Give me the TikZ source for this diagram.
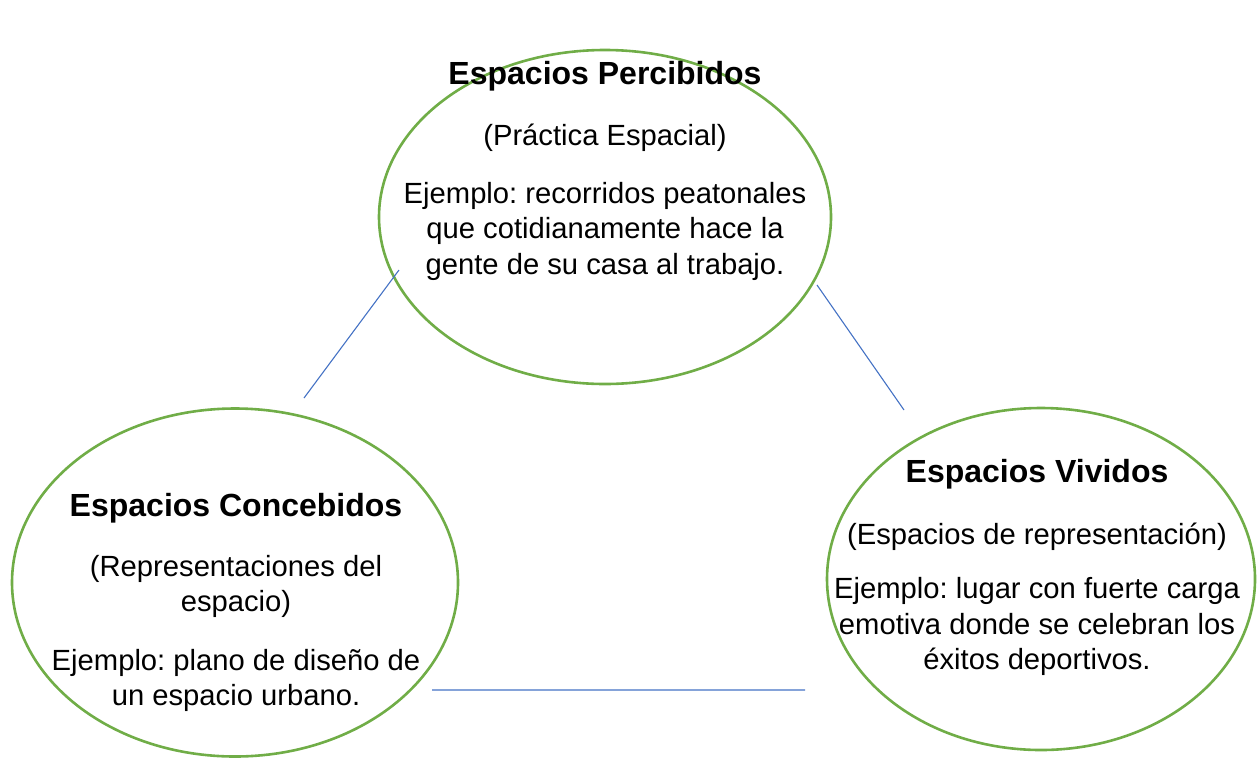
\documentclass[tikz,border=0pt]{standalone}
\usepackage{fontspec}
\setmainfont{Liberation Sans}
\frenchspacing
\usetikzlibrary{shapes.geometric,positioning}
\definecolor{verde}{RGB}{112,173,71}
\definecolor{azul}{RGB}{68,114,196}

\begin{document}
\begin{tikzpicture}[x=1pt,y=-1pt,on grid,
    espacio/.style={ellipse,draw=verde,line width=2.6pt,inner sep=0pt},
    titulo/.style={font=\fontsize{32}{36}\selectfont\bfseries},
    texto/.style={font=\fontsize{29.2}{35.5}\selectfont,align=center},
    enlace/.style={draw=azul,line width=1.1pt}]
   \useasboundingbox (0,0) rectangle (1260,758);
   \node[espacio,minimum width=452pt,minimum height=334pt] (perc) at (605,217) {};
   \node[espacio,minimum width=446pt,minimum height=348pt] (conc) at (235,582.5) {};
   \node[espacio,minimum width=428pt,minimum height=342pt] (viv) at (1041,579) {};
   % percibidos
   \node[titulo] (pTit) at (605,76.7) {Espacios Percibidos};
   \node[texto] (pSub) [below=60.7pt of pTit] {(Práctica Espacial)};
   \node[texto] (pEj) [below=93.6pt of pSub] {Ejemplo: recorridos peatonales\\que cotidianamente hace la\\gente de su casa al trabajo.};
   % concebidos
   \node[titulo] (cTit) at (236,508.7) {Espacios Concebidos};
   \node[texto] (cSub) [below=77.5pt of cTit] {(Representaciones del\\espacio)};
   \node[texto] (cEj) [below=94pt of cSub] {Ejemplo: plano de diseño de\\un espacio urbano.};
   % vividos
   \node[titulo] (vTit) at (1037,474.7) {Espacios Vividos};
   \node[texto] (vSub) [below=61.7pt of vTit] {(Espacios de representación)};
   \node[texto] (vEj) [below=90.5pt of vSub] {Ejemplo: lugar con fuerte carga\\emotiva donde se celebran los\\éxitos deportivos.};
   % enlaces
   \coordinate (a1) at (399,270);
   \coordinate (a2) at (304,398);
   \coordinate (b1) at (817,285);
   \coordinate (b2) at (904,410);
   \coordinate (c1) at (432,690);
   \coordinate (c2) at (805,690);
   \path[enlace] (a1) -- (a2) (b1) -- (b2) (c1) -- (c2);
\end{tikzpicture}
\end{document}
